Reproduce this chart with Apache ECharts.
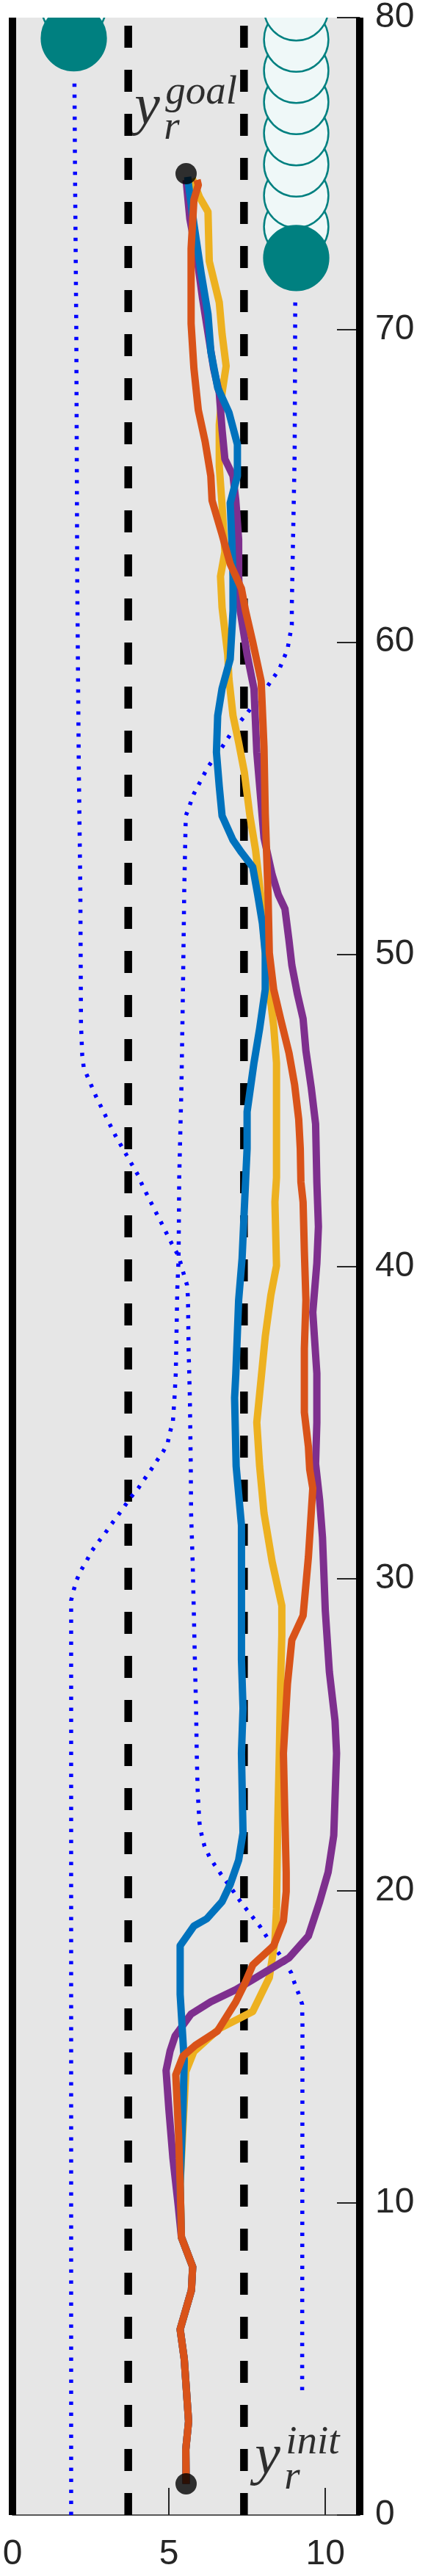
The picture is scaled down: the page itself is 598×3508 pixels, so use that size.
<!DOCTYPE html>
<html>
<head>
<meta charset="utf-8">
<script src="https://cdn.jsdelivr.net/npm/echarts@6/dist/echarts.min.js"></script>
<style>
  html, body { margin: 0; padding: 0; background: #fff; }
  #chart { width: 598px; height: 3508px; }
</style>
</head>
<body>
<div id="chart"></div>
<script>
// road layout (x in m, y in m)
const roadEdges = [0, 11.1];
const laneMarks = [3.7, 7.4];
const roadLength = 80;
const xTicks = [0, 5, 10];
const yTicks = [0, 10, 20, 30, 40, 50, 60, 70, 80];

const initPoint = [5.55, 1];
const goalPoint = [5.55, 75];

// common start of all runs
const sharedStart = [
  [5.55, 1.0], [5.54, 2.1], [5.63, 3.0], [5.49, 5.0], [5.36, 5.95],
  [5.72, 7.2], [5.76, 7.95], [5.4, 8.9], [5.36, 10.6]
];

const trajYellow = sharedStart.concat([
  [5.45, 12.4], [5.54, 14.2], [5.8, 14.85], [6.61, 15.58], [7.68, 16.13],
  [8.21, 17.22], [8.39, 18.4], [8.44, 19.42], [8.48, 22.16], [8.53, 24.4],
  [8.57, 26.62], [8.61, 28.19], [8.61, 29.13], [8.3, 30.54], [8.04, 32.1],
  [7.9, 33.6], [7.81, 35.0], [7.95, 36.42], [8.08, 37.75], [8.26, 39.08],
  [8.44, 40.02], [8.39, 42.06], [8.44, 42.84], [8.44, 44.95], [8.44, 46.52],
  [8.35, 47.69], [8.21, 48.87], [8.08, 50.04], [7.95, 51.77], [7.77, 53.34],
  [7.59, 54.43], [7.41, 55.84], [7.23, 56.78], [7.05, 57.64], [6.92, 58.82],
  [6.88, 59.6], [6.7, 61.1], [6.65, 62.1], [6.79, 62.89], [6.7, 64.38],
  [6.61, 65.63], [6.61, 66.96], [6.7, 67.98], [6.83, 68.84], [6.7, 69.87],
  [6.61, 70.88], [6.29, 72.2], [6.25, 73.78], [5.98, 74.25], [5.75, 74.85]
]);

const trajPurple = sharedStart.slice(0, 8).concat([
  [5.3, 9.9], [5.13, 11.42], [5.0, 12.99], [4.91, 14.24], [5.04, 14.87],
  [5.2, 15.35], [5.71, 16.05], [6.34, 16.44], [7.14, 16.83], [7.68, 17.15],
  [8.84, 17.85], [9.46, 18.55], [9.82, 19.65], [10.09, 20.59], [10.27, 21.77],
  [10.36, 24.4], [10.31, 25.45], [10.13, 27.01], [10.0, 28.97], [9.91, 31.32],
  [9.82, 32.5], [9.69, 33.67], [9.73, 35.0], [9.73, 36.57], [9.6, 38.53],
  [9.73, 40.1], [9.78, 41.27], [9.73, 42.7], [9.69, 44.56], [9.55, 45.73],
  [9.38, 46.91], [9.29, 47.93], [9.11, 48.71], [8.93, 49.65], [8.84, 50.43],
  [8.71, 51.45], [8.5, 51.9], [8.3, 52.55], [8.04, 53.73], [7.81, 56.47],
  [7.72, 58.5], [7.5, 59.6], [7.28, 61.0], [7.23, 62.1], [7.23, 63.28],
  [7.14, 64.53], [7.05, 65.32], [6.79, 65.86], [6.7, 66.8], [6.61, 67.98],
  [6.43, 68.76], [6.07, 71.04], [5.89, 72.37], [5.67, 73.55], [5.55, 74.8]
]);

const trajBlue = sharedStart.concat([
  [5.45, 12.99], [5.49, 14.56], [5.45, 15.2], [5.36, 16.68], [5.36, 18.24],
  [5.8, 18.87], [6.21, 19.1], [6.7, 19.65], [6.96, 20.2], [7.23, 20.98],
  [7.37, 21.85], [7.32, 24.4], [7.37, 25.84], [7.32, 27.4], [7.32, 29.75],
  [7.32, 31.71], [7.15, 33.6], [7.1, 35.79], [7.14, 36.57], [7.23, 38.92],
  [7.34, 40.25], [7.41, 41.82], [7.45, 42.7], [7.5, 43.77], [7.5, 44.95],
  [7.72, 46.52], [7.9, 47.61], [8.08, 48.87], [8.08, 50.04], [7.99, 50.98],
  [7.84, 51.9], [7.68, 52.79], [7.32, 53.26], [7.05, 53.65], [6.7, 54.43],
  [6.61, 55.37], [6.52, 56.47], [6.56, 57.64], [6.7, 58.51], [6.96, 59.45],
  [7.05, 61.0], [7.05, 62.1], [7.01, 63.28], [6.96, 64.45], [7.19, 65.32],
  [7.19, 66.33], [6.92, 67.35], [6.56, 68.14], [6.34, 69.31], [6.25, 70.5],
  [6.03, 71.82], [5.8, 73.39], [5.63, 74.64], [5.6, 74.9]
]);

const trajOrange = sharedStart.concat([
  [5.31, 12.2], [5.22, 14.1], [5.45, 14.7], [5.85, 15.05], [6.55, 15.5],
  [7.14, 16.44], [7.41, 16.99], [7.68, 17.62], [8.35, 18.24], [8.66, 19.03],
  [8.75, 19.97], [8.75, 20.59], [8.66, 24.4], [8.79, 26.62], [8.93, 28.03],
  [9.29, 28.81], [9.46, 30.69], [9.6, 32.89], [9.5, 33.5], [9.46, 34.22],
  [9.33, 35.32], [9.33, 37.36], [9.38, 38.92], [9.33, 40.49], [9.29, 42.06],
  [9.22, 42.7], [9.2, 43.77], [9.15, 44.71], [9.02, 45.81], [8.84, 46.83],
  [8.57, 47.93], [8.35, 48.87], [8.21, 50.04], [8.17, 51.9], [8.08, 54.51],
  [8.04, 56.63], [7.95, 58.74], [7.68, 60.0], [7.45, 61.0], [7.32, 61.71],
  [6.96, 62.5], [6.7, 63.44], [6.38, 64.53], [6.34, 65.32], [6.16, 66.41],
  [5.94, 67.43], [5.8, 68.76], [5.71, 70.2], [5.71, 72.6], [5.8, 74.17],
  [5.94, 74.64], [5.9, 74.8]
]);

// obstacle paths (dotted)
const obstaclePathA = [
  [1.875, 0], [1.875, 29.3], [1.96, 29.64], [2.05, 29.95], [2.19, 30.26],
  [2.37, 30.57], [2.54, 30.89], [2.75, 31.18], [2.96, 31.45], [3.17, 31.75],
  [3.38, 32.03], [3.57, 32.3], [3.79, 32.61], [4.02, 32.89], [4.2, 33.16],
  [4.42, 33.47], [4.6, 33.75], [4.82, 34.07], [4.96, 34.34], [5.04, 34.7],
  [5.13, 35.05], [5.18, 35.8], [5.22, 36.57], [5.27, 39.3], [5.31, 40.25],
  [5.33, 42.84], [5.4, 45.7], [5.45, 48.87], [5.49, 52], [5.54, 54.43],
  [5.8, 55.14], [6.25, 56.0], [6.7, 56.63], [7.05, 57.17], [7.5, 57.72],
  [8.13, 58.55], [8.53, 59.13], [8.79, 59.76], [8.93, 60.54], [8.93, 61.2],
  [9.02, 66], [9.04, 71.1]
];
const obstaclePathB = [
  [9.26, 4.0], [9.27, 15.66], [9.26, 16.36], [9.15, 16.69], [9.02, 17.03],
  [8.91, 17.37], [8.53, 17.97], [8.13, 18.52], [7.93, 18.83], [7.72, 19.1],
  [7.5, 19.38], [7.29, 19.65], [7.07, 19.97], [6.67, 20.52], [6.46, 20.83],
  [6.29, 21.1], [6.14, 21.42], [6.05, 21.77], [5.98, 22.16], [5.96, 22.47],
  [5.92, 23.18], [5.89, 24.4], [5.87, 25.8], [5.83, 27.4], [5.8, 28.81],
  [5.76, 30.5], [5.71, 32.1], [5.7, 33.6], [5.67, 35.8], [5.63, 37.35],
  [5.61, 39.0], [5.58, 39.4], [5.49, 39.7], [5.31, 40.33], [5.09, 40.73],
  [4.78, 41.35], [4.46, 41.98], [4.15, 42.6], [4.02, 42.91], [3.66, 43.54],
  [3.3, 44.17], [2.99, 44.79], [2.68, 45.42], [2.41, 46.05], [2.28, 46.36],
  [2.23, 46.75], [2.19, 47.77], [2.17, 52], [2.12, 56], [2.07, 62],
  [2.04, 70], [2.0, 75], [1.98, 78.1]
];

// obstacles: current position and predicted positions
const obstacleR = 1.03;
const obstacleNow = [[1.96, 79.34], [9.07, 72.3]];
const obstaclePred = [
  [1.96, 80.34], [1.96, 81.34],
  [9.07, 73.3], [9.07, 74.3], [9.07, 75.3], [9.07, 76.3], [9.07, 77.3],
  [9.07, 78.3], [9.07, 79.3], [9.07, 80.3], [9.07, 81.3]
];

const chart = echarts.init(document.getElementById('chart'));

const mathFont = 'Liberation Serif';
const axisFont = 'Liberation Sans';
const axisColor = '#262626';

function vline(x, width, type, clip) {
  return {
    type: 'line',
    data: [[x, 0], [x, roadLength]],
    showSymbol: false,
    silent: true,
    clip: clip,
    lineStyle: { color: '#000', width: width, type: type, cap: 'butt' },
    z: 2
  };
}

function traj(data, color) {
  return {
    type: 'line',
    data: data,
    showSymbol: false,
    lineStyle: { color: color, width: 10, join: 'round', cap: 'butt' },
    z: 4
  };
}

function dotted(data) {
  return {
    type: 'line',
    data: data,
    showSymbol: false,
    lineStyle: { color: '#0000ff', width: 5.5, type: [4.5, 10.5], cap: 'butt' },
    z: 3
  };
}

function circles(data, fill) {
  return {
    type: 'custom',
    data: data,
    clip: true,
    z: 3,
    renderItem: function (params, api) {
      const c = api.coord([api.value(0), api.value(1)]);
      const r = api.size([obstacleR, obstacleR])[0];
      return {
        type: 'circle',
        shape: { cx: c[0], cy: c[1], r: r },
        style: { fill: fill, stroke: '#008080', lineWidth: 2.5 }
      };
    }
  };
}

function mathLabel(anchor, sup) {
  const base = { fontFamily: mathFont, fontStyle: 'italic', color: '#000' };
  return {
    type: 'scatter',
    symbolSize: 0,
    silent: true,
    z: 6,
    data: [
      { value: anchor, label: Object.assign({ show: true, formatter: 'y', fontSize: 78, position: 'inside', align: 'left', verticalAlign: 'middle', offset: [0, -23] }, base) },
      { value: anchor, label: Object.assign({ show: true, formatter: sup, fontSize: 55, position: 'inside', align: 'left', verticalAlign: 'middle', offset: [42, -44] }, base) },
      { value: anchor, label: Object.assign({ show: true, formatter: 'r', fontSize: 55, position: 'inside', align: 'left', verticalAlign: 'middle', offset: [40, 4] }, base) }
    ]
  };
}

chart.setOption({
  animation: false,
  backgroundColor: '#fff',
  grid: {
    left: 17, right: 108, top: 18, bottom: 83,
    show: true, backgroundColor: '#e6e6e6', borderWidth: 0
  },
  xAxis: {
    type: 'value', min: 0, max: roadEdges[1], interval: 5,
    splitLine: { show: false },
    axisLine: { show: true, onZero: false, lineStyle: { color: axisColor, width: 1.5 } },
    axisTick: { show: true, inside: true, length: 37, lineStyle: { color: axisColor, width: 2 } },
    axisLabel: {
      margin: 30, fontSize: 48, color: axisColor, fontFamily: axisFont,
      showMaxLabel: false,
      formatter: function (v) { return xTicks.indexOf(v) >= 0 ? String(v) : ''; }
    }
  },
  yAxis: {
    type: 'value', position: 'right', min: 0, max: roadLength, interval: 10,
    splitLine: { show: false },
    axisLine: { show: true, onZero: false, lineStyle: { color: axisColor, width: 1.5 } },
    axisTick: { show: true, inside: true, length: 31, lineStyle: { color: axisColor, width: 2 } },
    axisLabel: {
      margin: 21, fontSize: 48, color: axisColor, fontFamily: axisFont,
      formatter: function (v) { return yTicks.indexOf(v) >= 0 ? String(v) : ''; }
    }
  },
  series: [
    vline(laneMarks[0], 10.5, [30, 30], true),
    vline(laneMarks[1], 10.5, [30, 30], true),
    vline(roadEdges[0], 10, 'solid', false),
    vline(roadEdges[1], 10, 'solid', false),
    dotted(obstaclePathA),
    dotted(obstaclePathB),
    circles(obstaclePred, '#eff8f8'),
    circles(obstacleNow, '#008080'),
    traj(trajYellow, '#EDB120'),
    traj(trajPurple, '#7E2F8E'),
    traj(trajBlue, '#0072BD'),
    traj(trajOrange, '#D95319'),
    {
      type: 'scatter',
      data: [initPoint, goalPoint],
      symbolSize: 29,
      itemStyle: { color: '#000' },
      z: 5
    },
    mathLabel([3.9, 76.56], 'goal'),
    mathLabel([7.75, 1.29], 'init')
  ]
});
</script>
</body>
</html>
